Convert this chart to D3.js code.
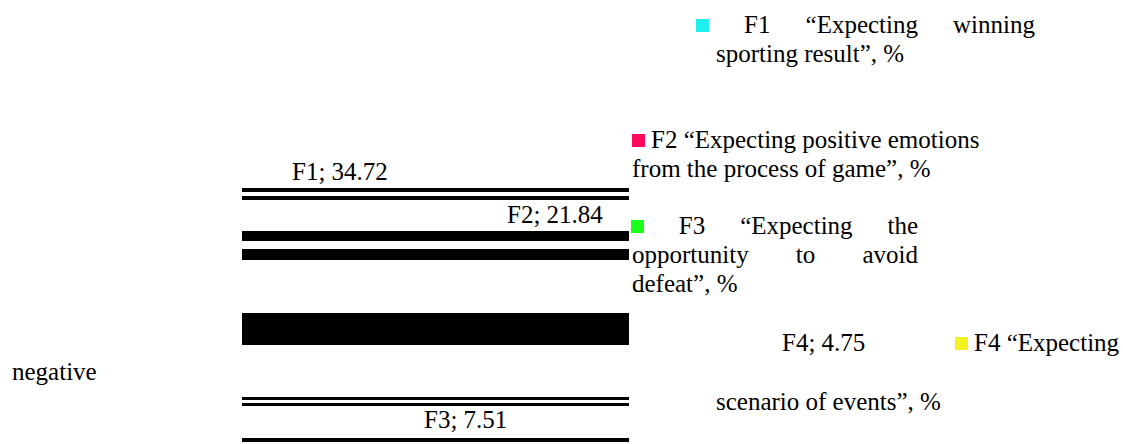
<!DOCTYPE html>
<html>
<head>
<meta charset="utf-8">
<script src="https://cdn.jsdelivr.net/npm/d3@7"></script>
<style>
  html, body { margin: 0; padding: 0; background: #ffffff; }
  svg { display: block; }
</style>
</head>
<body>
<div id="chart"></div>
<script>
// factor codes, shares (%) and legend wording
const factorCodes = ["F1", "F2", "F3", "F4"];
const factorValues = [34.72, 21.84, 7.51, 4.75];
const factorColors = ["#1ef0f0", "#ff0a5a", "#1aff1a", "#f2f21e"];
const factorTexts = [
  "“Expecting winning sporting result”, %",
  "“Expecting positive emotions from the process of game”, %",
  "“Expecting the opportunity to avoid defeat”, %",
  "“Expecting negative scenario of events”, %"
];

// the collapsed pie shows up as horizontal stripes: [from, to] on a 0..100 scale
const stripeBands = [
  [0, 1.57], [3.15, 4.72], [16.93, 20.87], [24.02, 28.35],
  [49.21, 61.81], [82.28, 83.46], [84.65, 85.83], [98.43, 100]
];

const width = 1123;
const height = 444;
const fontFamily = "'Liberation Serif', 'Times New Roman', serif";

const svg = d3.select("#chart")
  .append("svg")
  .attr("width", width)
  .attr("height", height);

const x = d3.scaleLinear().domain([0, 100]).range([242, 629]);
const y = d3.scaleLinear().domain([0, 100]).range([188, 442]);

function addText(g) {
  return g.append("text")
    .style("font-family", fontFamily)
    .style("font-size", "25px")
    .attr("fill", "#000000");
}

svg.append("g")
  .selectAll("rect")
  .data(stripeBands)
  .enter()
  .append("rect")
  .attr("x", x(0))
  .attr("width", x(100) - x(0))
  .attr("y", (d) => y(d[0]))
  .attr("height", (d) => y(d[1]) - y(d[0]))
  .attr("fill", "#000000");

// data labels "F1; 34.72"
const labelSpots = [
  { x: 292, y: 180 },
  { x: 507, y: 223 },
  { x: 424, y: 428 },
  { x: 782, y: 351 }
];

const labels = svg.append("g");
factorCodes.forEach((code, i) => {
  addText(labels)
    .attr("x", labelSpots[i].x)
    .attr("y", labelSpots[i].y)
    .text(`${code}; ${factorValues[i]}`);
});

const legend = svg.append("g");

// lays a line out justified between x0 and x1; items are words or a colour swatch
function justifyLine(items, x0, x1, baseline) {
  const nodes = items.map((item) => {
    if (item.swatch) {
      const r = legend.append("rect")
        .attr("width", 13)
        .attr("height", 13)
        .attr("y", baseline - 14)
        .attr("fill", item.swatch);
      return { node: r, w: 13 };
    }
    const t = addText(legend).attr("y", baseline).text(item);
    return { node: t, w: t.node().getComputedTextLength() };
  });
  const total = d3.sum(nodes, (n) => n.w);
  const gap = nodes.length > 1 ? (x1 - x0 - total) / (nodes.length - 1) : 0;
  let cx = x0;
  nodes.forEach((n) => {
    n.node.attr("x", cx);
    cx += n.w + gap;
  });
}

function plainLine(items, x0, baseline, gap) {
  let cx = x0;
  items.forEach((item) => {
    if (item.swatch) {
      legend.append("rect")
        .attr("x", cx)
        .attr("y", baseline - 14)
        .attr("width", 13)
        .attr("height", 13)
        .attr("fill", item.swatch);
      cx += 13 + gap;
    } else {
      const t = addText(legend).attr("x", cx).attr("y", baseline).text(item);
      cx += t.node().getComputedTextLength() + gap;
    }
  });
}

const words = factorTexts.map((t) => t.split(" "));

// F1
justifyLine([{ swatch: factorColors[0] }, factorCodes[0], words[0][0], words[0][1]], 696, 1035, 33);
plainLine([words[0].slice(2).join(" ")], 716, 62, 0);

// F2
plainLine([{ swatch: factorColors[1] }, `${factorCodes[1]} ${words[1].slice(0, 3).join(" ")}`], 632, 148, 6);
plainLine([words[1].slice(3).join(" ")], 632, 177, 0);

// F3
justifyLine([{ swatch: factorColors[2] }, factorCodes[2], words[2][0], words[2][1]], 631, 918, 234);
justifyLine([words[2][2], words[2][3], words[2][4]], 632, 918, 263);
plainLine([words[2].slice(5).join(" ")], 632, 292, 0);

// F4
plainLine([{ swatch: factorColors[3] }, `${factorCodes[3]} ${words[3][0]}`], 955, 351, 6);
plainLine([words[3][1]], 12, 380, 0);
plainLine([words[3].slice(2).join(" ")], 716, 410, 0);
</script>
</body>
</html>
